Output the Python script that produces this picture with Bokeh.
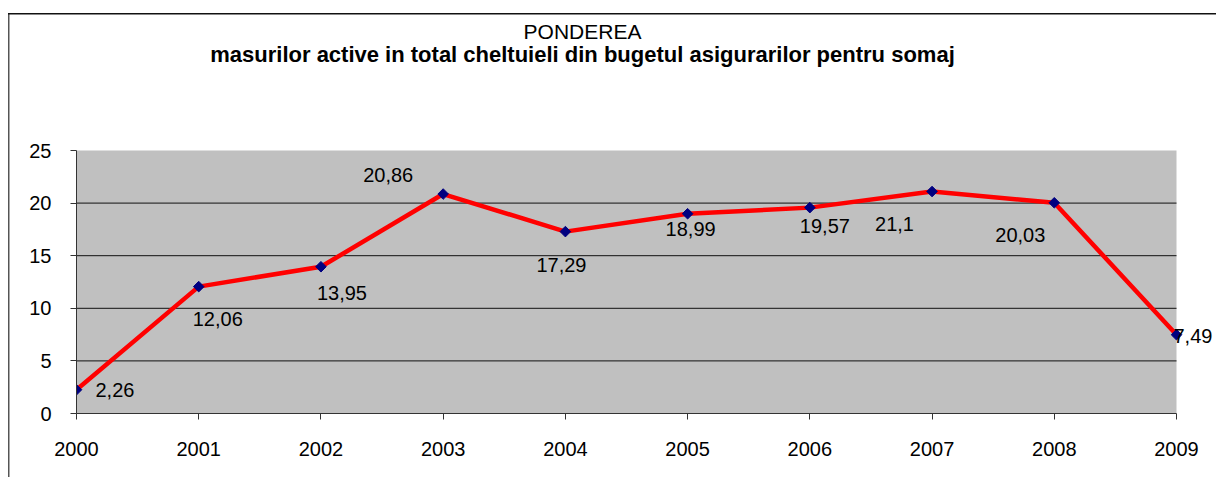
import numpy as np
from bokeh.plotting import figure
from bokeh.models import Range1d, FixedTicker
from bokeh.core.properties import value
from bokeh.embed import file_html
from bokeh.resources import INLINE

years = [2000, 2001, 2002, 2003, 2004, 2005, 2006, 2007, 2008, 2009]
ponderea = [2.26, 12.06, 13.95, 20.86, 17.29, 18.99, 19.57, 21.1, 20.03, 7.49]
value_labels = ["2,26", "12,06", "13,95", "20,86", "17,29", "18,99", "19,57", "21,1", "20,03", "7,49"]
y_ticks = [0, 5, 10, 15, 20, 25]
title_text = "PONDEREA"
subtitle_text = "masurilor active in total cheltuieli din bugetul asigurarilor pentru somaj"

# label placement offsets in pixels (layout only; positive dy = downward)
label_dx = [19, -6, -4, -80, -29, -22, -10, -57, -59, -3]
label_dy = [0, 32, 26, -19, 33, 15, 18, 32, 32, 1]

# ---- layout (pixels) ----
W, H = 1216, 477
PLOT_L, PLOT_R, PLOT_T, PLOT_B = 76, 1176, 150, 413
FONT = "Liberation Sans"

x_per_px = (years[-1] - years[0]) / (PLOT_R - PLOT_L)
y_per_px = (y_ticks[-1] - y_ticks[0]) / (PLOT_B - PLOT_T)
x_end = years[-1] + (W - PLOT_R) * x_per_px
y_end = y_ticks[-1] + PLOT_T * y_per_px


def px_x(px):
    return years[0] + (px - PLOT_L) * x_per_px


def px_y(py):
    return y_ticks[0] + (PLOT_B - py) * y_per_px


p = figure(width=W, height=H, output_backend="svg", toolbar_location=None,
           x_range=Range1d(years[0], x_end), y_range=Range1d(y_ticks[0], y_end),
           min_border_left=PLOT_L, min_border_right=0, min_border_top=0,
           min_border_bottom=H - PLOT_B)
p.background_fill_color = None
p.border_fill_color = None
p.outline_line_color = None
p.grid.visible = False
# outer chart border (top and left edges), drawn as CSS background lines
p.styles = {
    "background": ("linear-gradient(#111111, #111111) 8px 12.5px / 100% 1.5px no-repeat, "
                   "linear-gradient(#555555, #555555) 8px 12.5px / 1.5px 100% no-repeat, #ffffff")
}

# plot area and gridlines
p.quad(left=[years[0]], right=[years[-1]], bottom=[y_ticks[0]], top=[y_ticks[-1]],
       fill_color="#C0C0C0", line_color=None)
grid_vals = y_ticks[1:-1]
p.segment(x0=[years[0]] * len(grid_vals), x1=[years[-1]] * len(grid_vals),
          y0=grid_vals, y1=grid_vals, line_color="#111111", line_width=1)

p.xaxis.ticker = FixedTicker(ticks=years)
p.yaxis.ticker = FixedTicker(ticks=y_ticks)
p.xaxis.bounds = (years[0], years[-1])
p.yaxis.bounds = (y_ticks[0], y_ticks[-1])
for ax in (p.xaxis, p.yaxis):
    ax.axis_line_color = "#333333"
    ax.major_tick_line_color = "#333333"
    ax.minor_tick_line_color = None
    ax.major_tick_in = 0
    ax.major_tick_out = 6
    ax.major_label_text_font = FONT
    ax.major_label_text_font_size = "20px"
    ax.major_label_text_color = "black"
p.xaxis.major_label_standoff = 22
p.yaxis.major_label_standoff = 19

src = dict(x=years, y=ponderea, t=value_labels, dx=label_dx, dy=label_dy)
p.line("x", "y", source=src, line_color="#FF0000", line_width=4.5)
p.scatter("x", "y", source=src, marker="square", angle=np.pi / 4, size=7.5,
          fill_color="#000080", line_color="#000080")
p.text("x", "y", text="t", source=src, x_offset="dx", y_offset="dy",
       text_font=value(FONT), text_font_size="20px", text_color="black",
       text_align="left", text_baseline="middle")

# titles
p.text(x=[px_x(582)], y=[px_y(30.7)], text=[title_text], text_font=value(FONT),
       text_font_size="21px", text_color="black", text_align="center",
       text_baseline="middle")
p.text(x=[px_x(582)], y=[px_y(54.4)], text=[subtitle_text], text_font=value(FONT),
       text_font_size="22px", text_font_style="bold", text_color="black",
       text_align="center", text_baseline="middle")

open("out.html", "w").write(file_html(p, INLINE))
